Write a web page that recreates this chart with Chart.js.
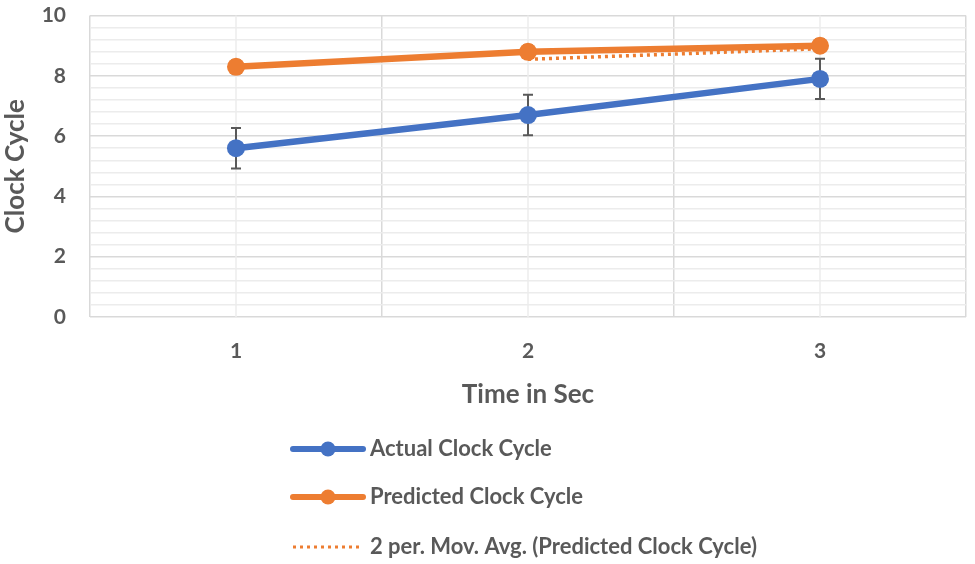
<!DOCTYPE html>
<html>
<head>
<meta charset="utf-8">
<script src="https://cdn.jsdelivr.net/npm/chart.js@4.4.1/dist/chart.umd.min.js"></script>
<style>
  html, body { margin: 0; padding: 0; background: #fff; }
  #wrap { width: 975px; height: 564px; }
</style>
</head>
<body>
<div id="wrap"><canvas id="myChart" width="975" height="564"></canvas></div>
<script>
const timeLabels = ['1', '2', '3'];
const actualCycle = [5.6, 6.7, 7.9];
const predictedCycle = [8.3, 8.8, 9.0];
const movingAvg = [null, 8.55, 8.9];
const actualErr = [0.67, 0.67, 0.67];
const predictedErr = [0.21, 0.21, 0.21];
const yTickLabels = [0, 2, 4, 6, 8, 10];

const textColor = '#595959';
const blue = '#4472C4';
const orange = '#ED7D31';

// error bars drawn under the lines
const errorBars = {
    id: 'errorBars',
    beforeDatasetsDraw(chart) {
        const ctx = chart.ctx;
        const yScale = chart.scales.y;
        chart.data.datasets.forEach((ds, i) => {
            if (!ds.errors) return;
            const meta = chart.getDatasetMeta(i);
            meta.data.forEach((pt, j) => {
                const v = ds.data[j];
                if (v == null) return;
                const top = yScale.getPixelForValue(v + ds.errors[j]);
                const bot = yScale.getPixelForValue(v - ds.errors[j]);
                ctx.save();
                ctx.strokeStyle = textColor;
                ctx.lineWidth = 2;
                ctx.beginPath();
                ctx.moveTo(pt.x, top); ctx.lineTo(pt.x, bot);
                ctx.moveTo(pt.x - 5, top); ctx.lineTo(pt.x + 5, top);
                ctx.moveTo(pt.x - 5, bot); ctx.lineTo(pt.x + 5, bot);
                ctx.stroke();
                ctx.restore();
            });
        });
    }
};

// light vertical lines at the categories themselves
const categoryLines = {
    id: 'categoryLines',
    beforeDatasetsDraw(chart) {
        const ctx = chart.ctx;
        const xs = chart.scales.x;
        const area = chart.chartArea;
        ctx.save();
        ctx.strokeStyle = '#ececec';
        ctx.lineWidth = 1.5;
        timeLabels.forEach((l, i) => {
            const x = xs.getPixelForValue(i);
            ctx.beginPath();
            ctx.moveTo(x, area.top);
            ctx.lineTo(x, area.bottom);
            ctx.stroke();
        });
        ctx.restore();
    }
};

// vertical legend under the axis title
const stackedLegend = {
    id: 'stackedLegend',
    afterDraw(chart) {
        const ctx = chart.ctx;
        const left = 293, lineLen = 70, rowY = [449, 497, 547];
        ctx.save();
        chart.data.datasets.forEach((ds, i) => {
            const y = rowY[i];
            ctx.strokeStyle = ds.borderColor;
            ctx.lineWidth = ds.legendWidth;
            ctx.lineCap = ds.borderDash ? 'butt' : 'round';
            ctx.setLineDash(ds.borderDash || []);
            ctx.beginPath();
            ctx.moveTo(left, y);
            ctx.lineTo(left + lineLen, y);
            ctx.stroke();
            ctx.setLineDash([]);
            if (ds.pointRadius) {
                ctx.fillStyle = ds.borderColor;
                ctx.beginPath();
                ctx.arc(left + lineLen / 2, y, 7.5, 0, Math.PI * 2);
                ctx.fill();
            }
            ctx.fillStyle = textColor;
            ctx.font = 'bold 22px Lato';
            ctx.textBaseline = 'middle';
            ctx.fillText(ds.label, left + lineLen + 7, y);
        });
        ctx.restore();
    }
};

const getChart = document.getElementById('myChart').getContext('2d');
const mychart = new Chart(getChart, {
    type: 'line',
    data: {
        labels: timeLabels,
        datasets: [{
            label: 'Actual Clock Cycle',
            data: actualCycle,
            errors: actualErr,
            borderColor: blue,
            backgroundColor: blue,
            borderWidth: 6.5,
            legendWidth: 6,
            pointRadius: 9,
            pointBorderWidth: 0,
            tension: 0
        }, {
            label: 'Predicted Clock Cycle',
            data: predictedCycle,
            errors: predictedErr,
            borderColor: orange,
            backgroundColor: orange,
            borderWidth: 6.5,
            legendWidth: 6,
            pointRadius: 9,
            pointBorderWidth: 0,
            tension: 0
        }, {
            label: '2 per. Mov. Avg. (Predicted Clock Cycle)',
            data: movingAvg,
            borderColor: orange,
            backgroundColor: orange,
            borderWidth: 3.5,
            legendWidth: 3,
            borderDash: [3, 4],
            pointRadius: 0,
            tension: 0
        }]
    },
    options: {
        responsive: false,
        animation: false,
        layout: {
            padding: { top: 13, right: 5, bottom: 150, left: 0 }
        },
        scales: {
            x: {
                type: 'category',
                offset: true,
                grid: {
                    offset: true,
                    color: '#d9d9d9',
                    lineWidth: 1.5,
                    drawTicks: false
                },
                border: { display: false },
                ticks: {
                    color: textColor,
                    font: { family: 'Lato', size: 21, weight: 'bold' },
                    padding: 22
                },
                title: {
                    display: true,
                    text: 'Time in Sec',
                    color: textColor,
                    font: { family: 'Lato', size: 26, weight: 'bold' },
                    padding: { top: 0, bottom: 4 }
                },
                afterFit(axis) { axis.height = 97; }
            },
            y: {
                min: 0,
                max: 10,
                grid: {
                    drawTicks: true,
                    tickLength: 21,
                    tickColor: 'rgba(0,0,0,0)',
                    lineWidth: 1.5,
                    color: (c) => yTickLabels.includes(Math.round(c.tick.value * 100) / 100) ? '#d9d9d9' : '#ececec'
                },
                border: { display: false },
                ticks: {
                    stepSize: 0.4,
                    autoSkip: false,
                    color: textColor,
                    font: { family: 'Lato', size: 21, weight: 'bold' },
                    padding: 3,
                    callback: (v) => {
                        const r = Math.round(v * 100) / 100;
                        return yTickLabels.includes(r) ? String(r) : '';
                    }
                },
                title: {
                    display: true,
                    text: 'Clock Cycle',
                    color: textColor,
                    font: { family: 'Lato', size: 26, weight: 'bold' },
                    padding: { top: 0, bottom: 0 }
                },
                afterFit(axis) { axis.width = 90; }
            }
        },
        plugins: {
            legend: { display: false },
            tooltip: { enabled: false }
        }
    },
    plugins: [categoryLines, errorBars, stackedLegend]
});
</script>
</body>
</html>
